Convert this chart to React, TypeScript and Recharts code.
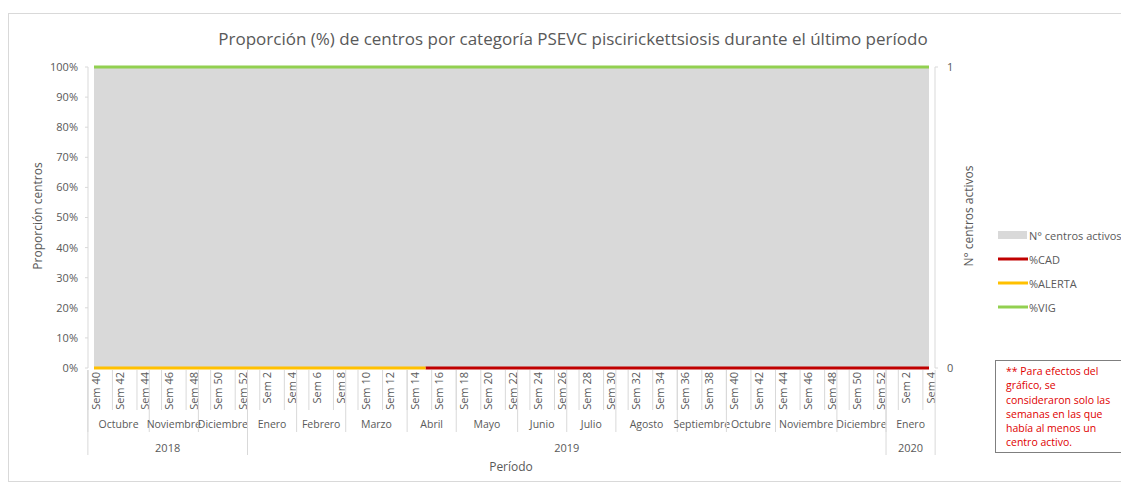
import React from 'react';
import {
    ComposedChart,
    Area,
    Line,
    XAxis,
    YAxis,
    Legend,
} from 'recharts';

// semanas consideradas (oct 2018 - ene 2020)
const semanas = [
    40, 41, 42, 43, 44, 45, 46, 47, 48, 49, 50, 51, 52,
    1, 2, 3, 4, 5, 6, 7, 8, 9, 10, 11, 12, 13, 14, 15, 16, 17, 18, 19, 20,
    21, 22, 23, 24, 25, 26, 27, 28, 29, 30, 31, 32, 33, 34, 35, 36, 37, 38,
    39, 40, 41, 42, 43, 44, 45, 46, 47, 48, 49, 50, 51, 52,
    1, 2, 3, 4,
];

const meses = [
    { nombre: 'Octubre', semanas: 5 },
    { nombre: 'Noviembre', semanas: 4 },
    { nombre: 'Diciembre', semanas: 4 },
    { nombre: 'Enero', semanas: 4 },
    { nombre: 'Febrero', semanas: 4 },
    { nombre: 'Marzo', semanas: 5 },
    { nombre: 'Abril', semanas: 4 },
    { nombre: 'Mayo', semanas: 5 },
    { nombre: 'Junio', semanas: 4 },
    { nombre: 'Julio', semanas: 4 },
    { nombre: 'Agosto', semanas: 5 },
    { nombre: 'Septiembre', semanas: 4 },
    { nombre: 'Octubre', semanas: 4 },
    { nombre: 'Noviembre', semanas: 5 },
    { nombre: 'Diciembre', semanas: 4 },
    { nombre: 'Enero', semanas: 4 },
];

const anios = [
    { nombre: '2018', semanas: 13 },
    { nombre: '2019', semanas: 52 },
    { nombre: '2020', semanas: 4 },
];

const centrosActivos = [
    1, 1, 1, 1, 1, 1, 1, 1, 1, 1, 1, 1, 1,
    1, 1, 1, 1, 1, 1, 1, 1, 1, 1, 1, 1, 1, 1, 1, 1, 1, 1, 1, 1,
    1, 1, 1, 1, 1, 1, 1, 1, 1, 1, 1, 1, 1, 1, 1, 1, 1, 1,
    1, 1, 1, 1, 1, 1, 1, 1, 1, 1, 1, 1, 1, 1,
    1, 1, 1, 1,
];

const pctVIG = [
    100, 100, 100, 100, 100, 100, 100, 100, 100, 100, 100, 100, 100,
    100, 100, 100, 100, 100, 100, 100, 100, 100, 100, 100, 100, 100, 100, 100, 100, 100, 100, 100, 100,
    100, 100, 100, 100, 100, 100, 100, 100, 100, 100, 100, 100, 100, 100, 100, 100, 100, 100,
    100, 100, 100, 100, 100, 100, 100, 100, 100, 100, 100, 100, 100, 100,
    100, 100, 100, 100,
];

const pctALERTA = [
    0, 0, 0, 0, 0, 0, 0, 0, 0, 0, 0, 0, 0,
    0, 0, 0, 0, 0, 0, 0, 0, 0, 0, 0, 0, 0, 0, 0, null, null, null, null, null,
    null, null, null, null, null, null, null, null, null, null, null, null, null, null, null, null, null, null,
    null, null, null, null, null, null, null, null, null, null, null, null, null, null,
    null, null, null, null,
];

const pctCAD = [
    null, null, null, null, null, null, null, null, null, null, null, null, null,
    null, null, null, null, null, null, null, null, null, null, null, null, null, null, 0, 0, 0, 0, 0, 0,
    0, 0, 0, 0, 0, 0, 0, 0, 0, 0, 0, 0, 0, 0, 0, 0, 0, 0,
    0, 0, 0, 0, 0, 0, 0, 0, 0, 0, 0, 0, 0, 0,
    0, 0, 0, 0,
];

const ticksPct = [0, 10, 20, 30, 40, 50, 60, 70, 80, 90, 100];
const ticksCentros = [0, 1];

const notaLineas = [
    '** Para efectos del',
    'gráfico, se',
    'consideraron solo las',
    'semanas en las que',
    'había al menos un',
    'centro activo.',
];

const leyenda = [
    { nombre: 'N° centros activos', color: '#d9d9d9', tipo: 'rect' },
    { nombre: '%CAD', color: '#c00000', tipo: 'line' },
    { nombre: '%ALERTA', color: '#ffc000', tipo: 'line' },
    { nombre: '%VIG', color: '#92d050', tipo: 'line' },
];

// tabla para recharts
const anioDeIndice: string[] = [];
anios.forEach((a) => {
    for (let k = 0; k < a.semanas; k++) anioDeIndice.push(a.nombre);
});

const data = semanas.map((s, i) => ({
    id: `${anioDeIndice[i]}-${s}`,
    semana: `Sem ${s}`,
    centros: centrosActivos[i],
    cad: pctCAD[i],
    alerta: pctALERTA[i],
    vig: pctVIG[i],
}));

const inicioMes: Record<number, { nombre: string; semanas: number }> = {};
let acc = 0;
meses.forEach((m) => {
    inicioMes[acc] = m;
    acc += m.semanas;
});
const inicioAnio: Record<number, { nombre: string; semanas: number }> = {};
acc = 0;
anios.forEach((a) => {
    inicioAnio[acc] = a;
    acc += a.semanas;
});

const FONT = '"Open Sans", "Noto Sans", sans-serif';
const GRIS_TXT = '#595959';
const GRIS_LINEA = '#d9d9d9';

const W = 1121;
const H = 483;
const LEYENDA_W = 130;
// la leyenda (vertical, a la derecha) le quita LEYENDA_W al área del gráfico
const MARGIN = { top: 67, right: 16, bottom: 28, left: 28 };
const Y_IZQ_W = 60;
const Y_DER_W = 40;
const X_H = 87;
const PAD = 6;
const PLOT_W = W - MARGIN.left - MARGIN.right - LEYENDA_W - Y_IZQ_W - Y_DER_W;
const PASO = (PLOT_W - 2 * PAD) / (data.length - 1);

function TickSemana(props: any) {
    const { x, y, payload } = props;
    const i: number = props.index ?? payload.index;
    const cx = payload.coordinate ?? x;
    const izq = cx - PASO / 2;
    const mes = inicioMes[i];
    const anio = inicioAnio[i];
    const ultimo = i === data.length - 1;
    const txt = { fontFamily: FONT, fill: GRIS_TXT };
    const y0 = y + 2;

    return (
        <g>
            {i % 2 === 0 && (
                <>
                    <line x1={izq} x2={izq} y1={y0} y2={y + 42} stroke={GRIS_LINEA} />
                    <text
                        transform={`translate(${cx + 1},${y + 4}) rotate(-90)`}
                        textAnchor="end"
                        dominantBaseline="central"
                        fontSize={11}
                        {...txt}
                    >
                        {data[i].semana}
                    </text>
                </>
            )}
            {mes && (
                <>
                    <line x1={izq} x2={izq} y1={y0} y2={y + 64} stroke={GRIS_LINEA} />
                    <text
                        x={izq + (mes.semanas * PASO) / 2}
                        y={y + 56}
                        textAnchor="middle"
                        dominantBaseline="central"
                        fontSize={10.5}
                        {...txt}
                    >
                        {mes.nombre}
                    </text>
                </>
            )}
            {anio && (
                <>
                    <line x1={izq} x2={izq} y1={y0} y2={y + 87} stroke={GRIS_LINEA} />
                    <text
                        x={izq + (anio.semanas * PASO) / 2}
                        y={y + 79}
                        textAnchor="middle"
                        dominantBaseline="central"
                        fontSize={11}
                        {...txt}
                    >
                        {anio.nombre}
                    </text>
                </>
            )}
            {ultimo && (
                <line x1={cx + PASO / 2} x2={cx + PASO / 2} y1={y0} y2={y + 87} stroke={GRIS_LINEA} />
            )}
        </g>
    );
}

function Leyenda() {
    return (
        <svg width={LEYENDA_W} height={90} style={{ display: 'block' }}>
            {leyenda.map((item, k) => {
                const cy = 10 + k * 24;
                return (
                    <g key={item.nombre}>
                        {item.tipo === 'rect' ? (
                            <rect x={2} y={cy - 4} width={29} height={8} fill={item.color} />
                        ) : (
                            <line x1={2} x2={32} y1={cy} y2={cy} stroke={item.color} strokeWidth={3} />
                        )}
                        <text
                            x={33}
                            y={cy}
                            dominantBaseline="central"
                            fontSize={11}
                            fontFamily={FONT}
                            fill={GRIS_TXT}
                        >
                            {item.nombre}
                        </text>
                    </g>
                );
            })}
        </svg>
    );
}

export default function App() {
    return (
        <div style={{ position: 'relative', width: W, height: H, overflow: 'hidden', fontFamily: FONT }}>
            <style>{'body{margin:0;overflow:hidden}'}</style>
            <div
                style={{
                    position: 'absolute',
                    left: 8,
                    top: 13,
                    width: 1200,
                    height: 467,
                    border: `1px solid ${GRIS_LINEA}`,
                }}
            />
            <div style={{ position: 'absolute', left: 0, top: 0 }}>
                <ComposedChart width={W} height={H} data={data} margin={MARGIN}>
                    <XAxis
                        dataKey="id"
                        scale="point"
                        padding={{ left: PAD, right: PAD }}
                        interval={0}
                        height={X_H}
                        tickSize={0}
                        tickMargin={0}
                        tickLine={false}
                        axisLine={false}
                        tick={(p: any) => <TickSemana {...p} />}
                    />
                    <YAxis
                        yAxisId="pct"
                        width={Y_IZQ_W}
                        domain={[0, 100]}
                        ticks={ticksPct}
                        interval={0}
                        tickFormatter={(v) => `${v}%`}
                        tickSize={3}
                        tickMargin={7}
                        axisLine={{ stroke: GRIS_LINEA }}
                        tickLine={{ stroke: GRIS_LINEA }}
                        tick={{ fill: GRIS_TXT, fontSize: 11, fontFamily: FONT }}
                    />
                    <YAxis
                        yAxisId="n"
                        orientation="right"
                        width={Y_DER_W}
                        domain={[0, 1]}
                        ticks={ticksCentros}
                        interval={0}
                        tickSize={3}
                        tickMargin={9}
                        axisLine={{ stroke: GRIS_LINEA }}
                        tickLine={{ stroke: GRIS_LINEA }}
                        tick={{ fill: GRIS_TXT, fontSize: 11, fontFamily: FONT }}
                    />
                    <Legend
                        layout="vertical"
                        align="right"
                        verticalAlign="top"
                        wrapperStyle={{ left: 996, top: 225, width: LEYENDA_W }}
                        content={() => <Leyenda />}
                    />
                    <Area
                        yAxisId="n"
                        type="linear"
                        dataKey="centros"
                        name="N° centros activos"
                        fill="#d9d9d9"
                        fillOpacity={1}
                        stroke="none"
                        isAnimationActive={false}
                    />
                    <Line
                        yAxisId="pct"
                        type="linear"
                        dataKey="cad"
                        name="%CAD"
                        stroke="#c00000"
                        strokeWidth={3}
                        dot={false}
                        isAnimationActive={false}
                    />
                    <Line
                        yAxisId="pct"
                        type="linear"
                        dataKey="alerta"
                        name="%ALERTA"
                        stroke="#ffc000"
                        strokeWidth={3}
                        dot={false}
                        isAnimationActive={false}
                    />
                    <Line
                        yAxisId="pct"
                        type="linear"
                        dataKey="vig"
                        name="%VIG"
                        stroke="#92d050"
                        strokeWidth={3}
                        dot={false}
                        isAnimationActive={false}
                    />
                </ComposedChart>
            </div>
            <svg width={W} height={H} style={{ position: 'absolute', left: 0, top: 0, pointerEvents: 'none' }}>
                <text x={573} y={38} textAnchor="middle" dominantBaseline="central" fontSize={17} fontFamily={FONT} fill={GRIS_TXT}>
                    Proporción (%) de centros por categoría PSEVC piscirickettsiosis durante el último período
                </text>
                <text
                    transform="translate(37,216) rotate(-90)"
                    textAnchor="middle"
                    dominantBaseline="central"
                    fontSize={12}
                    fontFamily={FONT}
                    fill={GRIS_TXT}
                >
                    Proporción centros
                </text>
                <text
                    transform="translate(968,216) rotate(-90)"
                    textAnchor="middle"
                    dominantBaseline="central"
                    fontSize={12}
                    fontFamily={FONT}
                    fill={GRIS_TXT}
                >
                    N° centros activos
                </text>
                <text x={511} y={466} textAnchor="middle" dominantBaseline="central" fontSize={12} fontFamily={FONT} fill={GRIS_TXT}>
                    Período
                </text>
            </svg>
            <div
                style={{
                    position: 'absolute',
                    left: 995,
                    top: 360,
                    width: 140,
                    height: 93,
                    boxSizing: 'border-box',
                    border: '1px solid #7f7f7f',
                    padding: '3px 0 0 10px',
                    color: '#e00000',
                    fontSize: 10.5,
                    lineHeight: '14.3px',
                    fontFamily: FONT,
                    whiteSpace: 'nowrap',
                }}
            >
                {notaLineas.map((l) => (
                    <div key={l}>{l}</div>
                ))}
            </div>
        </div>
    );
}
